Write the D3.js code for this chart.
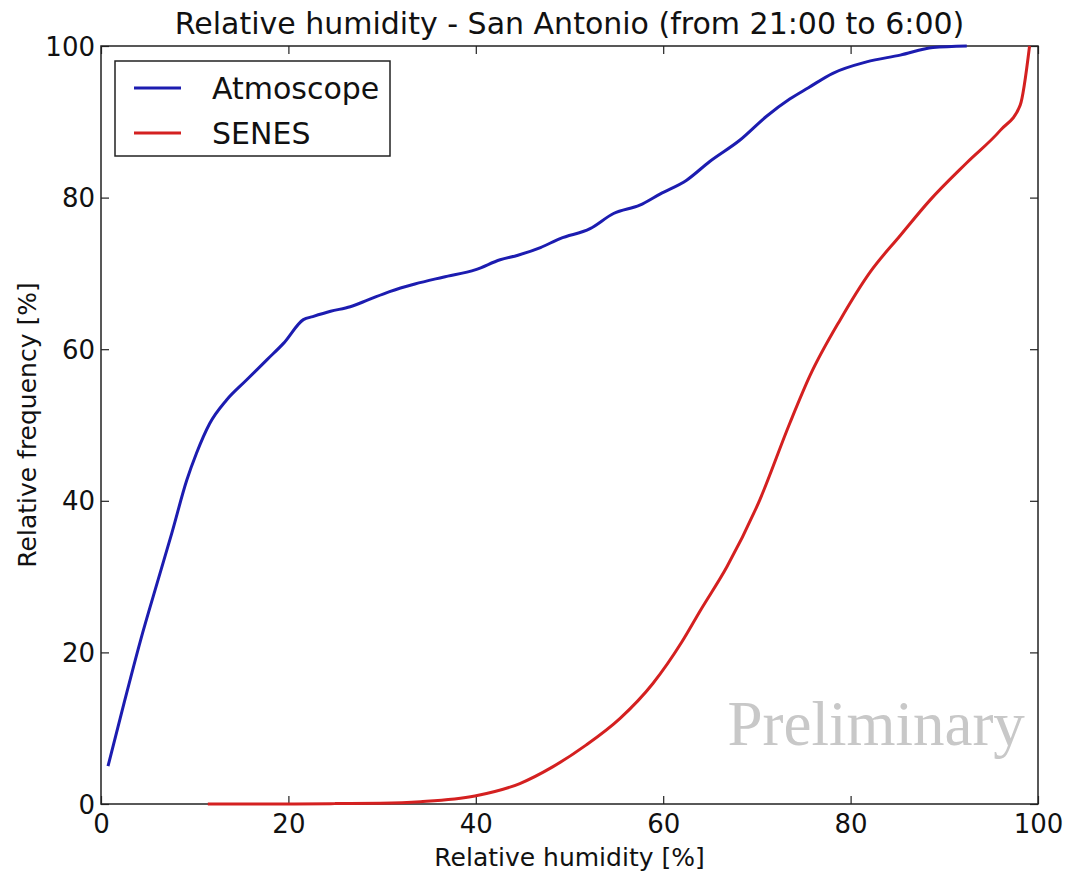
<!DOCTYPE html>
<html>
<head>
<meta charset="utf-8">
<script src="https://cdn.jsdelivr.net/npm/d3@7"></script>
<style>
  body { margin: 0; background: #fff; }
  svg text { font-family: "DejaVu Sans", sans-serif; fill: #111; }
</style>
</head>
<body>
<svg id="chart" width="1067" height="871"></svg>
<script>
// data
var atmoX = [0.75, 2.5, 4.2, 6.1, 7.55, 9.15, 10.2, 11.6, 13.4, 15.5, 17.7, 19.5, 21.6, 22.6, 24.5, 26.6, 28.5, 30.8, 33.5, 36.5, 40.0, 42.6, 44.5, 46.9, 49.0, 52.2, 54.7, 57.5, 59.7, 62.5, 65.0, 68.2, 71.0, 73.5, 75.5, 78.1, 81.7, 85.3, 88.8, 92.4];
var atmoY = [5.0, 13.5, 21.5, 29.6, 35.7, 42.7, 46.3, 50.2, 53.3, 55.9, 58.6, 60.8, 63.9, 64.3, 65.0, 65.6, 66.5, 67.6, 68.6, 69.5, 70.5, 71.8, 72.4, 73.4, 74.6, 75.9, 77.9, 79.0, 80.5, 82.3, 84.8, 87.6, 90.7, 93.0, 94.5, 96.4, 97.9, 98.8, 99.8, 100.0];

var senesX = [11.4, 20.0, 25.0, 29.8, 34.1, 39.9, 44.7, 48.2, 51.8, 55.4, 58.9, 62.0, 64.0, 66.8, 70.3, 73.5, 75.7, 78.9, 82.1, 85.3, 88.5, 92.4, 96.0, 98.1, 99.1];
var senesY = [0.0, 0.0, 0.05, 0.1, 0.3, 1.05, 2.7, 4.9, 7.8, 11.3, 15.9, 21.4, 25.6, 31.3, 40.1, 50.2, 56.6, 63.9, 70.2, 75.0, 79.7, 84.6, 88.9, 92.2, 100.0];

var xTicks = [0, 20, 40, 60, 80, 100];
var yTicks = [0, 20, 40, 60, 80, 100];
var seriesNames = ["Atmoscope", "SENES"];
var seriesColors = ["#1c1cb0", "#d42020"];

var svg = d3.select("#chart"),
    margin = {top: 46, right: 29, bottom: 67, left: 101},
    width = +svg.attr("width") - margin.left - margin.right,
    height = +svg.attr("height") - margin.top - margin.bottom,
    g = svg.append("g").attr("transform", "translate(" + margin.left + "," + margin.top + ")");

var x = d3.scaleLinear().domain([0, 100]).range([0, width]);
var y = d3.scaleLinear().domain([0, 100]).range([height, 0]);

// ticks point inward, on all four sides
function styleAxis(sel) {
  sel.select(".domain").remove();
  sel.selectAll(".tick line").attr("stroke", "#222").attr("stroke-width", 1.2);
  sel.selectAll(".tick text").attr("font-size", 26).attr("fill", "#111");
}

g.append("g")
  .attr("transform", "translate(0," + height + ")")
  .call(d3.axisBottom(x).tickValues(xTicks).tickSizeInner(-8).tickSizeOuter(0).tickPadding(11))
  .call(styleAxis);

g.append("g")
  .call(d3.axisLeft(y).tickValues(yTicks).tickSizeInner(-8).tickSizeOuter(0).tickPadding(6))
  .call(styleAxis)
  .selectAll(".tick text").attr("dy", "0.35em");

g.append("g")
  .call(d3.axisTop(x).tickValues(xTicks).tickSizeInner(-8).tickSizeOuter(0).tickFormat(""))
  .call(styleAxis);

g.append("g")
  .attr("transform", "translate(" + width + ",0)")
  .call(d3.axisRight(y).tickValues(yTicks).tickSizeInner(-8).tickSizeOuter(0).tickFormat(""))
  .call(styleAxis);

g.append("rect")
  .attr("width", width)
  .attr("height", height)
  .attr("fill", "none")
  .attr("stroke", "#222")
  .attr("stroke-width", 1.5);

// watermark
g.append("text")
  .attr("x", x(98.6))
  .attr("y", y(7.8))
  .attr("text-anchor", "end")
  .style("font-family", "'Liberation Serif', 'DejaVu Serif', serif")
  .style("font-size", "63px")
  .style("fill", "#c8c8c8")
  .text("Preliminary");

var line = d3.line()
  .x(function(d) { return x(d[0]); })
  .y(function(d) { return y(d[1]); })
  .curve(d3.curveMonotoneX);

var series = [d3.zip(atmoX, atmoY), d3.zip(senesX, senesY)];

series.forEach(function(s, i) {
  g.append("path")
    .datum(s)
    .attr("fill", "none")
    .attr("stroke", seriesColors[i])
    .attr("stroke-width", 3)
    .attr("stroke-linejoin", "round")
    .attr("d", line);
});

// legend
var legend = g.append("g").attr("transform", "translate(14,15)");
legend.append("rect")
  .attr("width", 275)
  .attr("height", 95)
  .attr("fill", "#fff")
  .attr("stroke", "#222")
  .attr("stroke-width", 1.5);
seriesNames.forEach(function(name, i) {
  var row = legend.append("g").attr("transform", "translate(0," + (27 + i * 45) + ")");
  row.append("line")
    .attr("x1", 19).attr("x2", 66)
    .attr("stroke", seriesColors[i])
    .attr("stroke-width", 3);
  row.append("text")
    .attr("x", 97)
    .attr("dy", "0.35em")
    .attr("font-size", 30)
    .text(name);
});

// titles
svg.append("text")
  .attr("x", margin.left + width / 2)
  .attr("y", 34)
  .attr("text-anchor", "middle")
  .attr("font-size", 30)
  .text("Relative humidity - San Antonio (from 21:00 to 6:00)");

svg.append("text")
  .attr("x", margin.left + width / 2)
  .attr("y", 866)
  .attr("text-anchor", "middle")
  .attr("font-size", 25)
  .text("Relative humidity [%]");

svg.append("text")
  .attr("transform", "translate(36," + (margin.top + height / 2) + ") rotate(-90)")
  .attr("text-anchor", "middle")
  .attr("font-size", 25)
  .text("Relative frequency [%]");
</script>
</body>
</html>
